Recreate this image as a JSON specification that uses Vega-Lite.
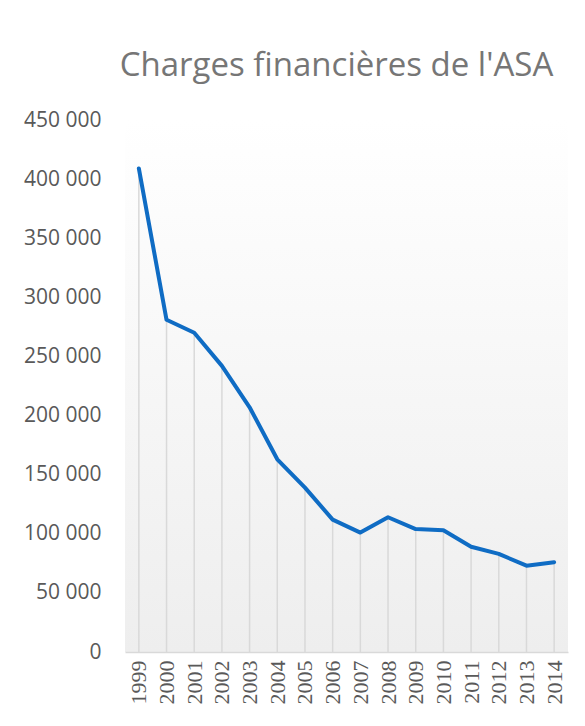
{
  "$schema": "https://vega.github.io/schema/vega-lite/v6.json",
  "autosize": {"type": "none"},
  "padding": {"left": 125, "top": 120, "right": 17, "bottom": 74},
  "width": 443,
  "height": 532,
  "background": "#ffffff",
  "title": {
    "text": "Charges financières de l'ASA",
    "font": "Open Sans",
    "fontSize": 33,
    "fontWeight": "normal",
    "color": "#767676",
    "anchor": "middle",
    "dx": -10,
    "offset": 0,
    "baseline": "alphabetic"
  },
  "data": {
    "values": [
      {"annee": "1999", "valeur": 409000},
      {"annee": "2000", "valeur": 281000},
      {"annee": "2001", "valeur": 270000},
      {"annee": "2002", "valeur": 242000},
      {"annee": "2003", "valeur": 207000},
      {"annee": "2004", "valeur": 163000},
      {"annee": "2005", "valeur": 139000},
      {"annee": "2006", "valeur": 112000},
      {"annee": "2007", "valeur": 101000},
      {"annee": "2008", "valeur": 114000},
      {"annee": "2009", "valeur": 104000},
      {"annee": "2010", "valeur": 103000},
      {"annee": "2011", "valeur": 89000},
      {"annee": "2012", "valeur": 83000},
      {"annee": "2013", "valeur": 73000},
      {"annee": "2014", "valeur": 76000}
    ]
  },
  "encoding": {
    "x": {
      "field": "annee",
      "type": "ordinal",
      "scale": {"type": "point", "padding": 0.5},
      "axis": {
        "title": null,
        "labelAngle": -90,
        "labelFont": "Liberation Serif",
        "labelFontSize": 22,
        "labelColor": "#595959",
        "labelPadding": 8,
        "ticks": false,
        "domainColor": "#d9d9d9",
        "domainWidth": 1.5,
        "grid": false
      }
    },
    "y": {
      "field": "valeur",
      "type": "quantitative",
      "scale": {"domain": [0, 450000], "nice": false},
      "axis": {
        "title": null,
        "values": [0, 50000, 100000, 150000, 200000, 250000, 300000, 350000, 400000, 450000],
        "labelExpr": "replace(format(datum.value, ',d'), ',', ' ')",
        "labelFont": "Open Sans",
        "labelFontSize": 21,
        "labelColor": "#595959",
        "labelPadding": 24,
        "ticks": false,
        "domain": false,
        "grid": false
      }
    }
  },
  "layer": [
    {
      "mark": {"type": "rule", "color": "#d9d9d9", "strokeWidth": 1.5},
      "encoding": {"y2": {"datum": 0}}
    },
    {
      "mark": {"type": "line", "color": "#0f6cc4", "strokeWidth": 4, "strokeJoin": "round", "strokeCap": "round"}
    }
  ],
  "config": {
    "view": {
      "stroke": null,
      "fill": {
        "gradient": "linear",
        "x1": 0, "y1": 0, "x2": 0, "y2": 1,
        "stops": [
          {"offset": 0, "color": "#ffffff"},
          {"offset": 1, "color": "#eeeeee"}
        ]
      }
    }
  }
}
